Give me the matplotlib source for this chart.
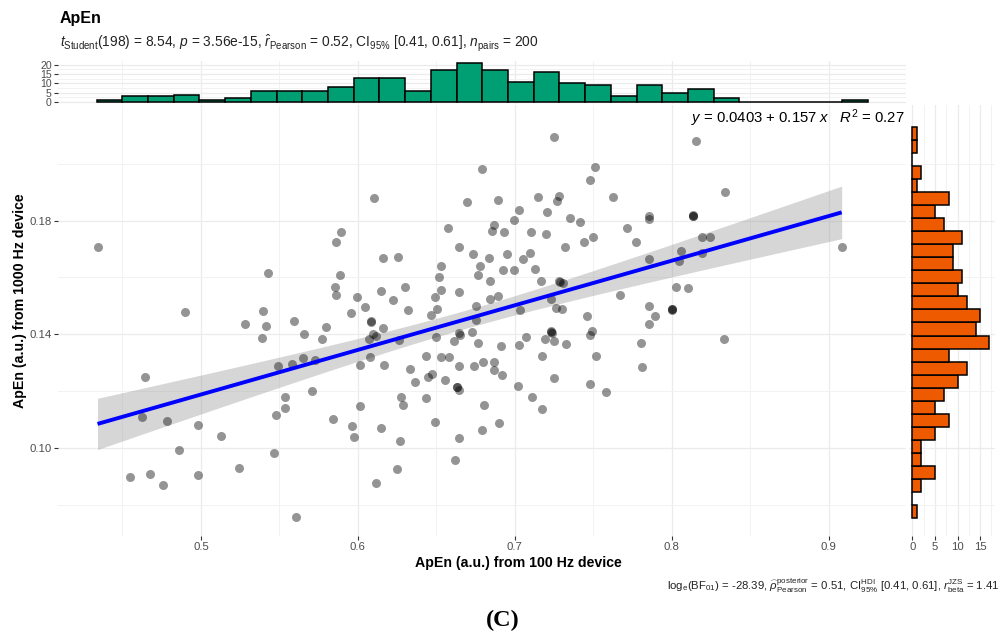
import numpy as np
import matplotlib
matplotlib.use("Agg")
import matplotlib.pyplot as plt
from matplotlib.ticker import MultipleLocator, FixedLocator

plt.rcParams['font.family'] = ['Liberation Sans', 'DejaVu Sans']
plt.rcParams['mathtext.fontset'] = 'custom'
plt.rcParams['mathtext.rm'] = 'Liberation Sans'
plt.rcParams['mathtext.it'] = 'Liberation Sans:italic'
plt.rcParams['mathtext.bf'] = 'Liberation Sans:bold'

# ApEn from the 100 Hz device (x) and the 1000 Hz device (y)
x100 = [0.4341, 0.6101, 0.6695, 0.6576, 0.5890, 0.5858, 0.5429, 0.6160, 0.6256, 0.6644,
        0.6732, 0.5886, 0.6532, 0.6519, 0.6530, 0.6298, 0.6147, 0.5852, 0.5858, 0.5992,
        0.6226, 0.6644, 0.6494, 0.6506, 0.6468, 0.6319, 0.6047, 0.5956, 0.5397, 0.4898,
        0.5280, 0.5414, 0.5593, 0.5656, 0.5799, 0.5769, 0.5391, 0.6081, 0.6160, 0.6098,
        0.6069, 0.6118, 0.6264, 0.6500, 0.6642, 0.6610, 0.6729, 0.6763, 0.6751, 0.6751,
        0.5491, 0.5582, 0.5650, 0.5729, 0.6011, 0.6075, 0.6164, 0.6332, 0.6432, 0.6530,
        0.6579, 0.6642, 0.6742, 0.6364, 0.6445, 0.6474, 0.6557, 0.6630, 0.6644, 0.4643,
        0.5533, 0.5705, 0.5533, 0.5476, 0.6277, 0.6285, 0.6013, 0.6432, 0.4622, 0.4781,
        0.4983, 0.5125, 0.5839, 0.5965, 0.5975, 0.6147, 0.6268, 0.6489, 0.6644, 0.4860,
        0.5467, 0.6621, 0.4545, 0.4675, 0.4760, 0.4983, 0.5240, 0.6247, 0.6118, 0.5608,
        0.6778, 0.6766,
        0.7250, 0.8153, 0.6793, 0.7511, 0.7477, 0.6895, 0.7150, 0.7282, 0.7269, 0.7025,
        0.7207, 0.7628, 0.6997, 0.7352, 0.7416, 0.6865, 0.6853, 0.6929, 0.7105, 0.7197,
        0.8342, 0.7857, 0.7857, 0.8138, 0.8138, 0.7715, 0.7496, 0.7439, 0.7773, 0.7322,
        0.8191, 0.8246, 0.8057, 0.8195, 0.6833, 0.6952, 0.7097, 0.7054, 0.6925, 0.6997,
        0.7131, 0.6844, 0.7167, 0.7288, 0.7305, 0.7857, 0.8044, 0.9083, 0.7671, 0.8030,
        0.8102, 0.6893, 0.6840, 0.7233, 0.7035, 0.7263, 0.7301, 0.7855, 0.7894, 0.8000,
        0.8000, 0.7458, 0.7857, 0.7231, 0.7229, 0.7492, 0.7477, 0.6914, 0.7029, 0.7069,
        0.7193, 0.7252, 0.7326, 0.7802, 0.8335, 0.7176, 0.7515, 0.6795, 0.6865, 0.6870,
        0.6916, 0.7252, 0.7809, 0.7020, 0.7479, 0.7579, 0.7110, 0.7176, 0.6802, 0.6899,
        0.6791,
        0.6085, 0.6648, 0.6634, 0.7284, 0.8004, 0.7235, 0.8134]
y1000 = [0.1706, 0.1881, 0.1866, 0.1774, 0.1760, 0.1725, 0.1617, 0.1668, 0.1673, 0.1706,
         0.1684, 0.1607, 0.1642, 0.1602, 0.1556, 0.1565, 0.1554, 0.1566, 0.1537, 0.1531,
         0.1520, 0.1548, 0.1530, 0.1489, 0.1468, 0.1486, 0.1496, 0.1476, 0.1483, 0.1477,
         0.1435, 0.1430, 0.1446, 0.1402, 0.1427, 0.1382, 0.1386, 0.1443, 0.1423, 0.1400,
         0.1382, 0.1394, 0.1380, 0.1392, 0.1403, 0.1378, 0.1407, 0.1368, 0.1450, 0.1501,
         0.1288, 0.1294, 0.1317, 0.1310, 0.1291, 0.1320, 0.1292, 0.1279, 0.1324, 0.1319,
         0.1320, 0.1287, 0.1290, 0.1232, 0.1249, 0.1260, 0.1240, 0.1216, 0.1204, 0.1251,
         0.1181, 0.1200, 0.1140, 0.1117, 0.1181, 0.1151, 0.1149, 0.1177, 0.1109, 0.1094,
         0.1079, 0.1042, 0.1102, 0.1077, 0.1040, 0.1071, 0.1023, 0.1090, 0.1036, 0.0992,
         0.0981, 0.0958, 0.0896, 0.0907, 0.0871, 0.0905, 0.0931, 0.0925, 0.0878, 0.0757,
         0.1642, 0.1609,
         0.2093, 0.2079, 0.1980, 0.1988, 0.1944, 0.1873, 0.1882, 0.1887, 0.1869, 0.1836,
         0.1832, 0.1884, 0.1802, 0.1808, 0.1794, 0.1785, 0.1765, 0.1759, 0.1759, 0.1754,
         0.1901, 0.1817, 0.1806, 0.1817, 0.1815, 0.1773, 0.1744, 0.1725, 0.1725, 0.1708,
         0.1741, 0.1741, 0.1694, 0.1687, 0.1670, 0.1681, 0.1685, 0.1664, 0.1626, 0.1625,
         0.1631, 0.1589, 0.1589, 0.1584, 0.1581, 0.1665, 0.1658, 0.1706, 0.1538, 0.1568,
         0.1564, 0.1535, 0.1524, 0.1524, 0.1486, 0.1491, 0.1489, 0.1498, 0.1463, 0.1489,
         0.1484, 0.1464, 0.1435, 0.1412, 0.1407, 0.1410, 0.1396, 0.1357, 0.1364, 0.1391,
         0.1383, 0.1375, 0.1367, 0.1370, 0.1382, 0.1325, 0.1325, 0.1304, 0.1301, 0.1273,
         0.1257, 0.1247, 0.1286, 0.1217, 0.1226, 0.1198, 0.1179, 0.1137, 0.1151, 0.1088,
         0.1062,
         0.1446, 0.1397, 0.1213, 0.1586, 0.1490, 0.1406, 0.1819]

# marginal histograms (30 bins each)
top_counts = [1, 3, 3, 4, 1, 2, 6, 6, 6, 8, 13, 13, 6, 17, 21,
              17, 11, 16, 10, 9, 3, 9, 5, 7, 2, 0, 0, 0, 0, 1]
top_range = (0.4335, 0.9251)
# read from the highest bin down, then flipped so it runs bottom -> top
right_counts = [1, 1, 0, 2, 1, 8, 5, 7, 11, 9, 9, 11, 10, 12, 15,
                14, 17, 8, 12, 10, 7, 5, 8, 5, 2, 2, 5, 2, 0, 1][::-1]
right_range = (0.0753, 0.2130)

intercept, slope, r_squared = 0.0403, 0.157, 0.27

title = "ApEn"
subtitle = (r"$t_{\mathrm{Student}}$(198) = 8.54, $p$ = 3.56e-15, "
            r"$\hat{r}_{\mathrm{Pearson}}$ = 0.52, CI$_{95\%}$ [0.41, 0.61], "
            r"$n_{\mathrm{pairs}}$ = 200")
caption = (r"log$_{\mathrm{e}}$(BF$_{01}$) = -28.39, "
           r"$\widehat{\rho}_{\mathrm{Pearson}}^{\mathrm{posterior}}$ = 0.51, "
           r"CI$_{95\%}^{\mathrm{HDI}}$ [0.41, 0.61], "
           r"$r_{\mathrm{beta}}^{\mathrm{JZS}}$ = 1.41")
xlabel = "ApEn (a.u.) from 100 Hz device"
ylabel = "ApEn (a.u.) from 1000 Hz device"

x = np.array(x100)
y = np.array(y1000)

W, H = 1005, 634
fig = plt.figure(figsize=(W / 100, H / 100), dpi=100)


def box(l, t, r, b):
    return [l / W, 1 - b / H, (r - l) / W, (b - t) / H]


ax = fig.add_axes(box(58, 105, 906, 536))
axt = fig.add_axes(box(58, 61, 906, 104))
axr = fig.add_axes(box(909, 105, 995, 536))

for a in (ax, axt, axr):
    for s in a.spines.values():
        s.set_visible(False)
    a.set_axisbelow(True)
    a.grid(True, which='major', color='#EBEBEB', lw=0.9)
    a.grid(True, which='minor', color='#F2F2F2', lw=0.7)
    a.tick_params(which='major', length=3, width=0.8, color='#333333',
                  labelcolor='#4D4D4D', labelsize=8.2, pad=1.5)
    a.tick_params(which='minor', length=0)

# main scatter
xlim = (0.4089, 0.9493)
ylim = (0.0690, 0.2207)
ax.set_xlim(*xlim)
ax.set_ylim(*ylim)
ax.xaxis.set_major_locator(MultipleLocator(0.1))
ax.xaxis.set_minor_locator(MultipleLocator(0.05))
ax.yaxis.set_major_locator(FixedLocator([0.10, 0.14, 0.18]))
ax.yaxis.set_minor_locator(FixedLocator([0.08, 0.12, 0.16, 0.20]))
ax.set_yticklabels(["0.10", "0.14", "0.18"])

# regression line with 95% band
n = len(x)
xs = np.linspace(x.min(), x.max(), 80)
fit = intercept + slope * xs
resid = y - (intercept + slope * x)
s_err = np.sqrt(np.sum(resid ** 2) / (n - 2))
sxx = np.sum((x - x.mean()) ** 2)
half = 1.972 * s_err * np.sqrt(1 / n + (xs - x.mean()) ** 2 / sxx)
ax.fill_between(xs, fit - half, fit + half, color='#999999', alpha=0.4, lw=0, zorder=2)
ax.scatter(x, y, s=42, color='black', alpha=0.42, lw=0, zorder=3)
ax.plot(xs, fit, color='blue', lw=2.8, zorder=4, solid_capstyle='butt')

# top histogram
tedges = np.linspace(top_range[0], top_range[1], len(top_counts) + 1)
axt.bar(tedges[:-1], top_counts, width=np.diff(tedges), align='edge',
        color='#009E73', edgecolor='black', lw=1.1, zorder=3)
axt.set_xlim(*xlim)
axt.set_ylim(-1.05, 22.05)
axt.xaxis.set_major_locator(MultipleLocator(0.1))
axt.xaxis.set_minor_locator(MultipleLocator(0.05))
axt.yaxis.set_major_locator(MultipleLocator(5))
axt.yaxis.set_minor_locator(MultipleLocator(2.5))
axt.tick_params(axis='x', which='both', length=0, labelbottom=False)
axt.tick_params(axis='y', labelsize=7.6)

# right histogram
redges = np.linspace(right_range[0], right_range[1], len(right_counts) + 1)
axr.barh(redges[:-1], right_counts, height=np.diff(redges), align='edge',
         color='#EE5A00', edgecolor='black', lw=1.1, zorder=3)
axr.set_ylim(*ylim)
axr.set_xlim(-0.75, 18.3)
axr.xaxis.set_major_locator(MultipleLocator(5))
axr.xaxis.set_minor_locator(MultipleLocator(2.5))
axr.yaxis.set_major_locator(FixedLocator([0.10, 0.14, 0.18]))
axr.yaxis.set_minor_locator(FixedLocator([0.08, 0.12, 0.16, 0.20]))
axr.tick_params(axis='y', which='both', length=0, labelleft=False)

# texts
fig.text(60 / W, 1 - 18 / H, title, fontsize=11.5, fontweight='bold', va='center', color='black')
fig.text(60 / W, 1 - 43 / H, subtitle, fontsize=9.9, va='center', color='#222222')
fig.text(905 / W, 1 - 118 / H,
         r"$y$ = %.4f + %.3f $x$   $R^{2}$ = %.2f" % (intercept, slope, r_squared),
         fontsize=10.7, ha='right', va='center', color='black')
fig.text(518 / W, 1 - 563 / H, xlabel, fontsize=10.2, fontweight='bold',
         ha='center', va='center')
fig.text(20 / W, 1 - 301 / H, ylabel, fontsize=10.2, fontweight='bold',
         ha='center', va='center', rotation=90)
fig.text(1000 / W, 1 - 586 / H, caption, fontsize=8.2, ha='right', va='center', color='#222222')
fig.text(503 / W, 1 - 620 / H, "(C)", fontsize=17.5, family='Liberation Serif',
         fontweight='bold', ha='center', va='center')

fig.savefig("out.png", dpi=100)
